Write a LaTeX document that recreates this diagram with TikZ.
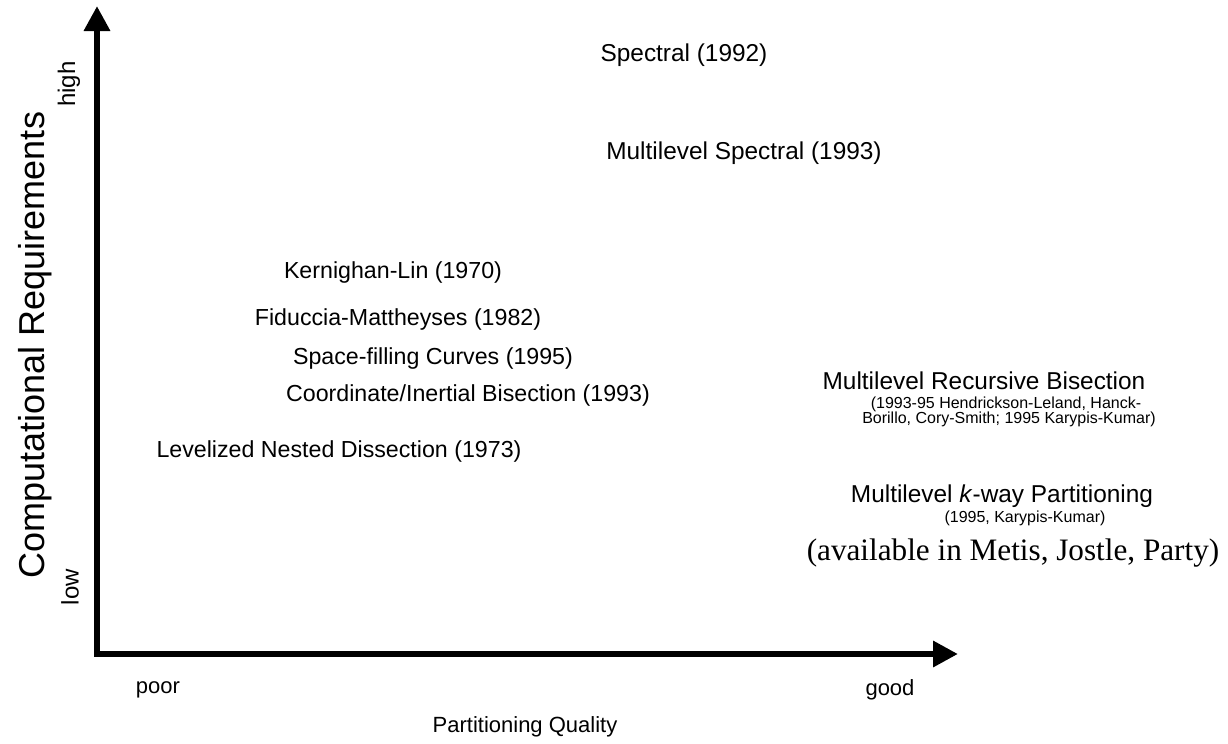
\documentclass[tikz,border=0pt]{standalone}
\usepackage{fontspec}
\setmainfont{Liberation Serif}
\setsansfont{Liberation Sans}
\usepackage{tikz}
\usetikzlibrary{arrows.meta,positioning}

\begin{document}
\begin{tikzpicture}[x=0.5pt,y=-0.5pt,
    method/.style={font=\sffamily\fontsize{11.6}{14}\selectfont,inner sep=0pt},
    mlmethod/.style={font=\sffamily\fontsize{12.2}{14}\selectfont,inner sep=0pt},
    note/.style={font=\sffamily\fontsize{8}{9.6}\selectfont,inner sep=0pt},
    axislabel/.style={font=\sffamily\fontsize{11}{13}\selectfont,inner sep=0pt},
    level/.style={font=\sffamily\fontsize{12}{14}\selectfont,inner sep=0pt,rotate=90}]
\useasboundingbox (0,0) rectangle (1228,744);

% Axes
\coordinate (ytop) at (97,6);
\coordinate (origin) at (97,654);
\coordinate (xend) at (958,654);
\draw[line width=3.3pt,line join=miter,
      {Triangle[length=12.5pt,width=12.5pt]}-{Triangle[length=12.5pt,width=12.5pt]}]
    (ytop) -- (origin) -- (xend);

% Axis labels
\node[font=\sffamily\fontsize{18}{21}\selectfont,rotate=90,inner sep=0pt] (yname) at (35,345) {Computational Requirements};
\node[level] (high) at (69,84) {high};
\node[level] (low) at (70,587) {low};
\node[axislabel] (poor) at (158,690) {poor};
\node[axislabel] (good) at (890,690) {good};
\node[axislabel] (xname) at (525,727) {Partitioning Quality};

% Methods
\node[mlmethod] (spectral) at (684,55) {Spectral (1992)};
\node[mlmethod] (mlspectral) at (744,153) {Multilevel Spectral (1993)};
\node[method] (kl) at (393,272) {Kernighan-Lin (1970)};
\node[method] (fm) at (398,320) {Fiduccia-Mattheyses (1982)};
\node[method] (sfc) at (433,358) {Space-filling Curves (1995)};
\node[method] (coord) at (468,395) {Coordinate/Inertial Bisection (1993)};
\node[method] (lnd) at (339,451) {Levelized Nested Dissection (1973)};

% Multilevel methods
\node[mlmethod] (mlrb) at (984,381) {Multilevel Recursive Bisection};
\node[note] (mlrbref1) at (1006,404) {(1993-95 Hendrickson-Leland, Hanck-};
\node[note] (mlrbref2) at (1009,419) {Borillo, Cory-Smith; 1995 Karypis-Kumar)};
\node[mlmethod] (mlkway) at (1002,496) {Multilevel \textit{k}-way Partitioning};
\node[note] (mlkwayref) at (1025,518) {(1995, Karypis-Kumar)};
\node[font=\fontsize{15.6}{18}\selectfont,inner sep=0pt] (avail) at (1013,553) {(available in Metis, Jostle, Party)};
\end{tikzpicture}
\end{document}
